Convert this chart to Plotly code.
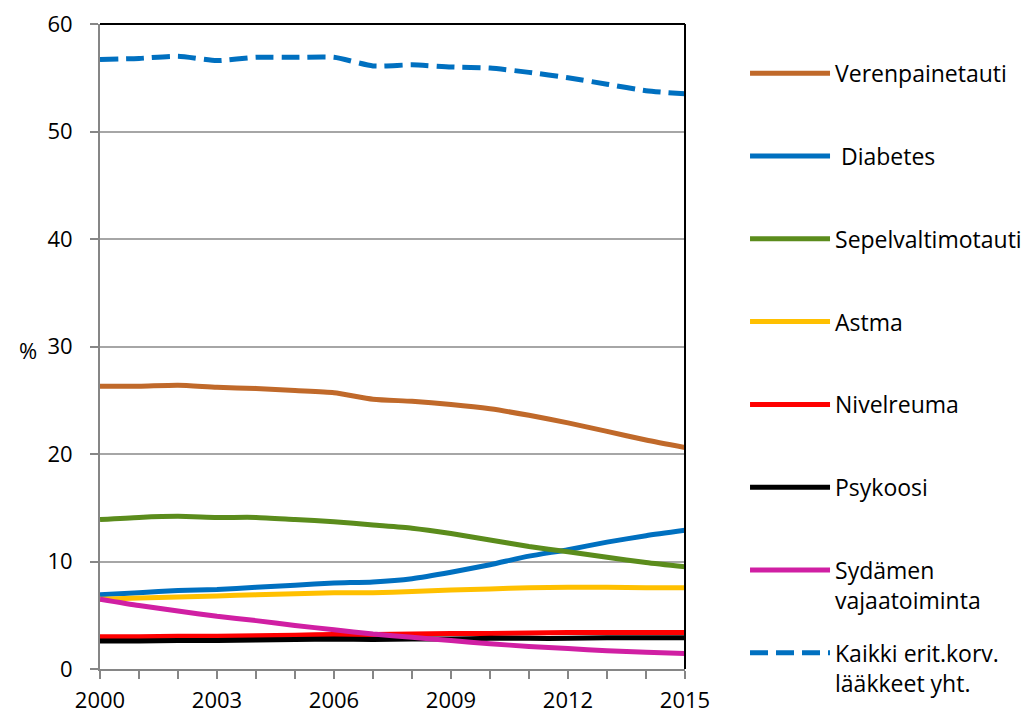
import plotly.graph_objects as go

years = list(range(2000, 2016))

verenpainetauti = [26.3, 26.3, 26.4, 26.2, 26.1, 25.9, 25.7, 25.1, 24.9, 24.6, 24.2, 23.6, 22.9, 22.1, 21.3, 20.6]
diabetes = [6.9, 7.1, 7.3, 7.4, 7.6, 7.8, 8.0, 8.1, 8.4, 9.0, 9.7, 10.5, 11.1, 11.8, 12.4, 12.9]
sepelvaltimotauti = [13.9, 14.1, 14.2, 14.1, 14.1, 13.9, 13.7, 13.4, 13.1, 12.6, 12.0, 11.4, 10.9, 10.4, 9.9, 9.5]
astma = [6.5, 6.6, 6.7, 6.8, 6.9, 7.0, 7.1, 7.1, 7.2, 7.35, 7.45, 7.55, 7.6, 7.6, 7.55, 7.55]
nivelreuma = [3.0, 3.0, 3.05, 3.05, 3.1, 3.15, 3.2, 3.2, 3.25, 3.3, 3.3, 3.35, 3.4, 3.4, 3.4, 3.4]
psykoosi = [2.6, 2.6, 2.65, 2.65, 2.7, 2.75, 2.8, 2.75, 2.8, 2.8, 2.85, 2.85, 2.85, 2.9, 2.9, 2.9]
sydamen_vajaatoiminta = [6.5, 5.9, 5.4, 4.9, 4.5, 4.05, 3.65, 3.25, 2.95, 2.65, 2.35, 2.1, 1.9, 1.7, 1.55, 1.45]
kaikki = [56.7, 56.8, 57.0, 56.6, 56.9, 56.9, 56.9, 56.1, 56.2, 56.0, 55.9, 55.5, 55.0, 54.4, 53.8, 53.5]

series = [
    ("Verenpainetauti", verenpainetauti, "#C0692A", "solid"),
    ("\u00a0Diabetes", diabetes, "#0070C0", "solid"),
    ("Sepelvaltimotauti", sepelvaltimotauti, "#5B8C1C", "solid"),
    ("Astma", astma, "#FFC000", "solid"),
    ("Nivelreuma", nivelreuma, "#FF0000", "solid"),
    ("Psykoosi", psykoosi, "#000000", "solid"),
    ("Sydämen<br>vajaatoiminta", sydamen_vajaatoiminta, "#D01FA3", "solid"),
    ("Kaikki erit.korv.<br>lääkkeet yht.", kaikki, "#0070C0", "18px,8px"),
]

fig = go.Figure()
for name, values, color, dash in series:
    # every legend entry gets two lines so the entries are evenly spaced
    label = name if "<br>" in name else name + "<br> "
    fig.add_trace(
        go.Scatter(
            x=years,
            y=values,
            name=label,
            legendgroup=name,
            mode="lines",
            line=dict(color=color, width=5, dash=dash, shape="spline", smoothing=0.6),
        )
    )

fig.update_xaxes(
    range=[2000, 2015],
    tick0=2000,
    dtick=3,
    ticks="outside",
    ticklen=8,
    tickwidth=1.5,
    tickcolor="#868686",
    ticklabelstandoff=3,
    ticklabeloverflow="allow",
    minor=dict(dtick=1, ticks="outside", ticklen=8, tickwidth=1.5, tickcolor="#868686"),
    showline=True,
    linecolor="#868686",
    linewidth=2,
    showgrid=False,
    zeroline=False,
    tickfont=dict(size=22),
)
fig.update_yaxes(
    range=[0, 60],
    dtick=10,
    ticks="outside",
    ticklen=8,
    tickwidth=1.5,
    tickcolor="#868686",
    ticklabelstandoff=13,
    ticklabeloverflow="allow",
    showline=True,
    linecolor="#868686",
    linewidth=2,
    showgrid=True,
    gridcolor="#A6A6A6",
    gridwidth=1.5,
    zeroline=False,
    tickfont=dict(size=22),
)

# black top and right border of the plot area
fig.add_shape(type="line", xref="paper", yref="paper", x0=0, x1=1, y0=1, y1=1,
              line=dict(color="black", width=2))
fig.add_shape(type="line", xref="paper", yref="paper", x0=1, x1=1, y0=0, y1=1,
              line=dict(color="black", width=2))

fig.add_annotation(text="%", xref="paper", yref="paper", x=-0.123, y=0.495,
                   xanchor="center", showarrow=False, font=dict(size=22))

# page body adds an 8px offset, margins compensate for it
fig.update_layout(
    width=1036,
    height=713,
    margin=dict(l=92, r=359, t=16, b=52, autoexpand=False),
    paper_bgcolor="white",
    plot_bgcolor="white",
    font=dict(family="Open Sans", size=22, color="black"),
    legend=dict(
        x=1.1026,
        y=0.957,
        xanchor="left",
        yanchor="top",
        valign="top",
        traceorder="grouped",
        tracegroupgap=20,
        itemwidth=80,
        maxheight=700,
        font=dict(size=23),
    ),
)

fig.write_html("out.html")
